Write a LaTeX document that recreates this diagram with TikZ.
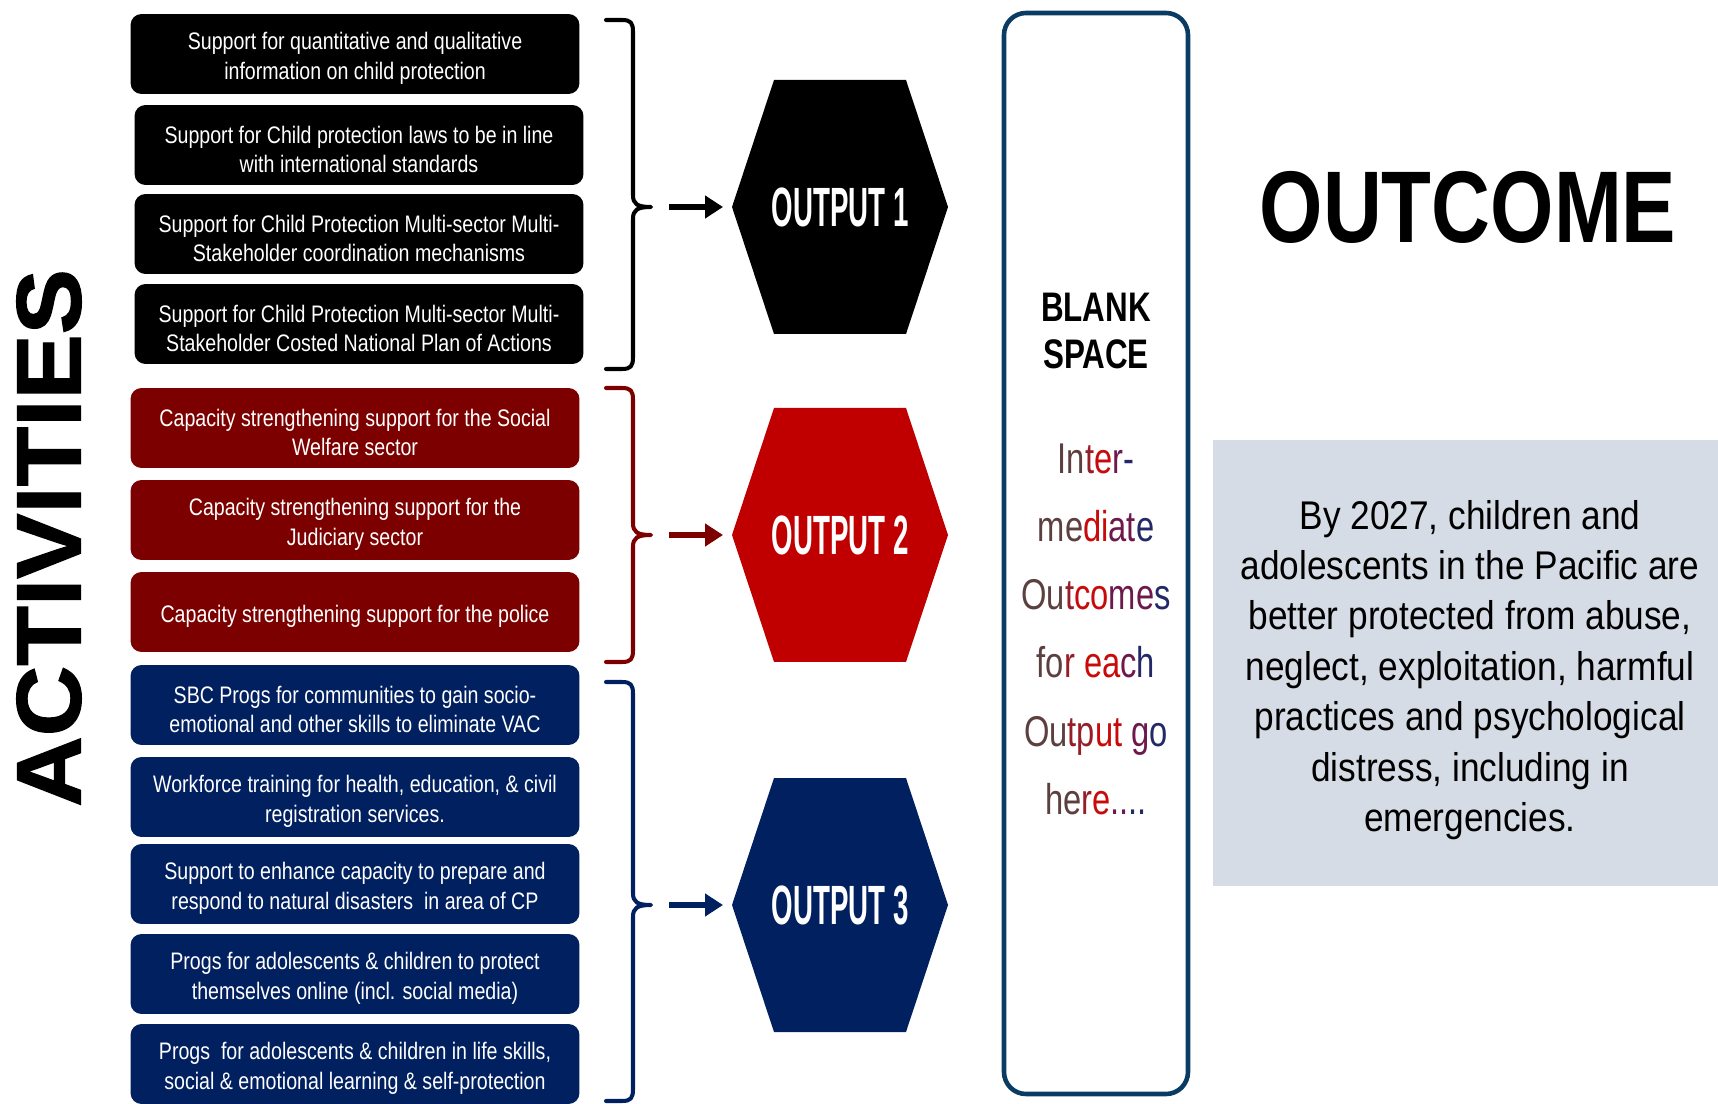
\documentclass[tikz,border=0pt]{standalone}
\usepackage{fontspec}
\setmainfont{Liberation Sans}
\newfontfamily\boxfont[FakeStretch=0.82]{Liberation Sans}
\newfontfamily\hexfont[FakeStretch=0.5]{Liberation Sans Bold}
\newfontfamily\headfont[FakeStretch=0.8]{Liberation Sans Bold}
\newfontfamily\blankfont[FakeStretch=0.76]{Liberation Sans Bold}
\newfontfamily\sidefont[FakeStretch=1.07,FakeBold=1.5]{Liberation Sans Bold}
\newfontfamily\goalfont[FakeStretch=0.88]{Liberation Sans}
\newfontfamily\midfont[FakeStretch=0.76]{Liberation Sans}
\usetikzlibrary{arrows.meta}

\definecolor{cpmaroon}{RGB}{124,0,0}
\definecolor{cpred}{RGB}{192,0,0}
\definecolor{cpnavy}{RGB}{0,32,96}
\definecolor{cpframe}{RGB}{10,59,99}
\definecolor{cpgray}{RGB}{214,220,229}
% colour steps across the intermediate outcome lines
\definecolor{gradA}{RGB}{92,64,64}
\definecolor{gradB}{RGB}{150,30,40}
\definecolor{gradC}{RGB}{200,10,10}
\definecolor{gradD}{RGB}{110,25,75}
\definecolor{gradE}{RGB}{35,40,105}
\newcommand{\gl}[2]{\textcolor{grad#1}{#2}}

\tikzset{
  % #1: strut height, keeps the text a little below the middle
  act/.style={rounded corners=0.22cm, minimum width=8.98cm, minimum height=1.6cm,
    inner sep=0pt, align=center, text=white,
    font=\boxfont\fontsize{13.6}{16.8}\selectfont,
    execute at begin node={\rule{0pt}{#1}}},
  act/.default=31.5pt,
  hexlabel/.style={text=white, font=\hexfont\fontsize{31.5}{32}\selectfont},
  grpbrace/.style={line width=2.3pt, line cap=round, line join=round},
  feed/.style={-{Triangle[length=0.36cm, width=0.44cm]}, line width=3.2pt,
    shorten <=0.3cm, shorten >=0.18cm},
}

\begin{document}
\begin{tikzpicture}[x=0.02cm, y=-0.02cm]
\useasboundingbox (0,0) rectangle (1718,1104);

\node[rotate=90, font=\sidefont\fontsize{52}{52}\selectfont] (acts) at (49,538) {ACTIVITIES};

% activities, grouped by output
\node[act, fill=black] (act1) at (355,54) {Support for quantitative and qualitative\\information on child protection};
\node[act, fill=black] (act2) at (359,145) {Support for Child protection laws to be in line\\with international standards};
\node[act, fill=black] (act3) at (359,234) {Support for Child Protection Multi-sector Multi-\\Stakeholder coordination mechanisms};
\node[act, fill=black] (act4) at (359,324) {Support for Child Protection Multi-sector Multi-\\Stakeholder Costed National Plan of Actions};

\node[act, fill=cpmaroon] (act5) at (355,428) {Capacity strengthening support for the Social\\Welfare sector};
\node[act, fill=cpmaroon] (act6) at (355,520) {Capacity strengthening support for the\\Judiciary sector};
\node[act=14.5pt, fill=cpmaroon] (act7) at (355,612) {Capacity strengthening support for the police};

\node[act, fill=cpnavy] (act8) at (355,705) {SBC Progs for communities to gain socio-\\emotional and other skills to eliminate VAC};
\node[act, fill=cpnavy] (act9) at (355,797) {Workforce training for health, education, \& civil\\registration services.};
\node[act, fill=cpnavy] (act10) at (355,884) {Support to enhance capacity to prepare and\\respond to natural disasters\ \ in area of CP};
\node[act, fill=cpnavy] (act11) at (355,974) {Progs for adolescents \& children to protect\\themselves online (incl. social media)};
\node[act, fill=cpnavy] (act12) at (355,1064) {Progs\ \ for adolescents \& children in life skills,\\social \& emotional learning \& self-protection};

% braces and outputs
\foreach \k/\ya/\yb/\yc/\hexc/\arrc in {1/20/369/207/black/black,
    2/388/662/535/cpred/cpmaroon, 3/682/1101/905/cpnavy/cpnavy} {
  \draw[grpbrace, \arrc] (606,\ya) -- (622,\ya) .. controls (631,\ya) and (633,\ya+3) .. (633,\ya+12)
    -- (633,\yc-12) .. controls (633,\yc-3) and (637,\yc) .. (651,\yc)
    .. controls (637,\yc) and (633,\yc+3) .. (633,\yc+12)
    -- (633,\yb-12) .. controls (633,\yb-3) and (631,\yb) .. (622,\yb) -- (606,\yb);
  \fill[\hexc] (732,\yc) -- ++(42,-127) -- ++(132,0) -- ++(42,127)
    -- ++(-42,127) -- ++(-132,0) -- cycle;
  \coordinate (in\k) at (732,\yc);
  \coordinate (tip\k) at (654,\yc);
  \node[hexlabel] (out\k) at (840,\yc) {OUTPUT \k};
  \draw[feed, \arrc] (tip\k) -- (in\k);
}

% intermediate outcomes column
\draw[cpframe, line width=2.6pt, rounded corners=0.44cm] (1004,13) rectangle (1188,1094);
\node[align=center, font=\blankfont\fontsize{23.5}{26.2}\selectfont] (blank) at (1096,331) {BLANK\\SPACE};
\foreach \ln [count=\i] in {
  {\gl AI\gl An\gl Bt\gl Ce\gl Dr\gl E-},
  {\gl Am\gl Ae\gl Cd\gl Ci\gl Da\gl Dt\gl Ee},
  {\gl AO\gl Au\gl Bt\gl Cc\gl Co\gl Dm\gl De\gl Es},
  {\gl Af\gl Ao\gl Br\ \gl Ce\gl Ca\gl Dc\gl Eh},
  {\gl AO\gl Au\gl Bt\gl Bp\gl Cu\gl Ct\ \gl Dg\gl Eo},
  {\gl Ah\gl Ae\gl Br\gl Ce\gl D.\gl D.\gl E.\gl E.}} {
  \node[anchor=base, font=\midfont\fontsize{24.5}{30}\selectfont] (mid\i) at (1096,{474+68*(\i-1)}) {\ln};
}

% outcome
\node[font=\headfont\fontsize{58}{60}\selectfont] (outcome) at (1468,207) {OUTCOME};
\fill[cpgray] (1213,440) rectangle (1718,886);
\node[align=center, font=\goalfont\fontsize{22.8}{28.7}\selectfont] (goal) at (1470,670)
  {By 2027, children and\\adolescents in the Pacific are\\better protected from abuse,\\neglect, exploitation, harmful\\practices and psychological\\distress, including in\\emergencies.};
\end{tikzpicture}
\end{document}
